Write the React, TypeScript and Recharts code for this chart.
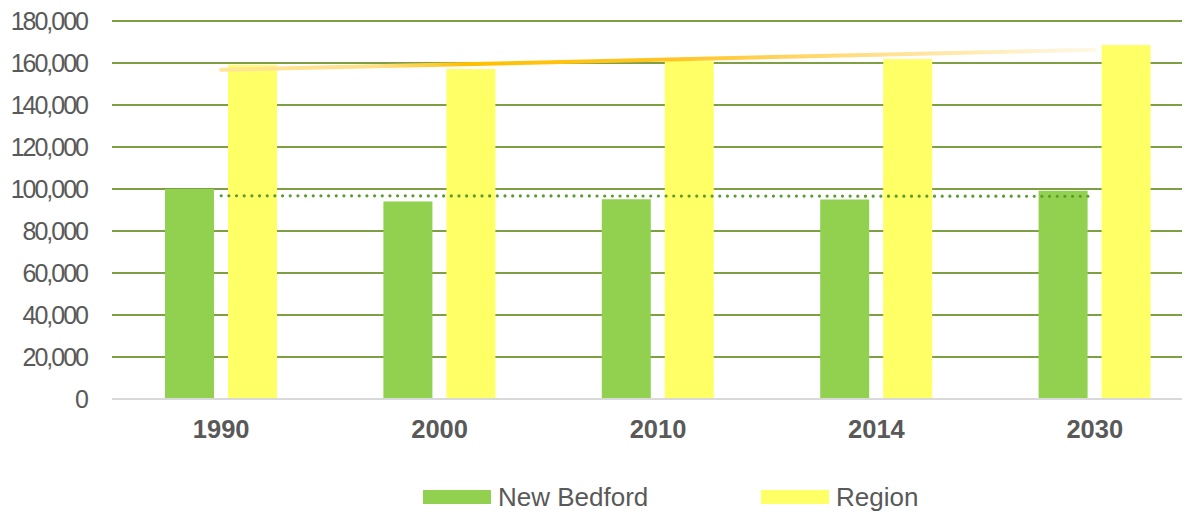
import React from 'react';
import { ComposedChart, Bar, Line, XAxis, YAxis, CartesianGrid, Legend } from 'recharts';

const years = ['1990', '2000', '2010', '2014', '2030'];
const newBedford = [100000, 94000, 95100, 95000, 99200];
const region = [159000, 157100, 161100, 161900, 168600];
const yTicks = [0, 20000, 40000, 60000, 80000, 100000, 120000, 140000, 160000, 180000];

const seriesNames = { newBedford: 'New Bedford', region: 'Region' };
const seriesColors = { newBedford: '#92D050', region: '#FFFF66' };

// Linear least-squares trendline (as in the original spreadsheet chart)
function linearTrend(values: number[]): number[] {
  const n = values.length;
  const xs = values.map((_, i) => i + 1);
  const mx = xs.reduce((a, b) => a + b, 0) / n;
  const my = values.reduce((a, b) => a + b, 0) / n;
  let num = 0;
  let den = 0;
  xs.forEach((x, i) => {
    num += (x - mx) * (values[i] - my);
    den += (x - mx) * (x - mx);
  });
  const slope = num / den;
  return xs.map((x) => my + slope * (x - mx));
}

const nbTrend = linearTrend(newBedford);
const rgTrend = linearTrend(region);

const data = years.map((year, i) => ({
  year,
  newBedford: newBedford[i],
  region: region[i],
  nbTrend: nbTrend[i],
  rgTrend: rgTrend[i],
}));

const FONT = '"Liberation Sans", Arial, sans-serif';

const YTick = (props: any) => {
  const { x, y, payload } = props;
  return (
    <text
      x={x}
      y={y}
      dy="0.355em"
      textAnchor="end"
      fill="#595959"
      fontSize={25}
      fontFamily={FONT}
      letterSpacing={-2}
    >
      {Number(payload.value).toLocaleString('en-US')}
    </text>
  );
};

const XTick = (props: any) => {
  const { x, y, payload } = props;
  return (
    <text
      x={x}
      y={y}
      dy="0.71em"
      textAnchor="middle"
      fill="#595959"
      fontSize={25.5}
      fontWeight="bold"
      fontFamily={FONT}
    >
      {payload.value}
    </text>
  );
};

const renderLegend = () => (
  <div style={{ position: 'relative', height: 55, width: '100%' }}>
    {(['newBedford', 'region'] as const).map((key, idx) => (
      <div
        key={key}
        style={{
          position: 'absolute',
          left: idx === 0 ? 415 : 753,
          top: 20,
          height: 35,
          display: 'flex',
          alignItems: 'center',
        }}
      >
        <div style={{ width: 68, height: 14, background: seriesColors[key] }} />
        <span
          style={{
            marginLeft: 7,
            fontSize: 26,
            lineHeight: 1,
            color: '#595959',
            fontFamily: FONT,
            whiteSpace: 'nowrap',
          }}
        >
          {seriesNames[key]}
        </span>
      </div>
    ))}
  </div>
);

export default function App() {
  return (
    <div style={{ width: 1182, height: 506, overflow: 'hidden' }}>
      <ComposedChart
        width={1196}
        height={506}
        data={data}
        margin={{ top: 13, right: 0, left: 0, bottom: 0 }}
        barGap={14}
        style={{ fontFamily: FONT }}
      >
        <defs>
          <linearGradient id="rgTrendGrad" x1="0" y1="0" x2="1" y2="0">
            <stop offset="0%" stopColor="#FFE699" />
            <stop offset="18%" stopColor="#FFDF85" />
            <stop offset="28%" stopColor="#FFC000" />
            <stop offset="52%" stopColor="#FFC526" />
            <stop offset="75%" stopColor="#FFE08C" />
            <stop offset="100%" stopColor="#FFF8E6" />
          </linearGradient>
        </defs>
        <CartesianGrid vertical={false} stroke="#7F9F45" strokeWidth={2} />
        <XAxis
          dataKey="year"
          axisLine={{ stroke: '#D9D9D9', strokeWidth: 2 }}
          tickLine={false}
          tickSize={0}
          tickMargin={21}
          height={60}
          tick={<XTick />}
          interval={0}
        />
        <YAxis
          domain={[0, 180000]}
          ticks={yTicks}
          width={104}
          axisLine={false}
          tickLine={false}
          tickSize={0}
          tickMargin={25}
          tick={<YTick />}
          interval={0}
        />
        <Legend verticalAlign="bottom" height={55} content={renderLegend} />
        <Bar dataKey="newBedford" name="New Bedford" fill="#92D050" barSize={49} isAnimationActive={false} />
        <Bar dataKey="region" name="Region" fill="#FFFF66" barSize={49} isAnimationActive={false} />
        <Line
          dataKey="nbTrend"
          type="linear"
          stroke="#5A9A2E"
          strokeWidth={3.2}
          strokeDasharray="0 7.67"
          strokeLinecap="round"
          dot={false}
          legendType="none"
          isAnimationActive={false}
        />
        <Line
          dataKey="rgTrend"
          type="linear"
          stroke="url(#rgTrendGrad)"
          strokeWidth={4}
          strokeLinecap="round"
          dot={false}
          legendType="none"
          isAnimationActive={false}
        />
      </ComposedChart>
    </div>
  );
}
